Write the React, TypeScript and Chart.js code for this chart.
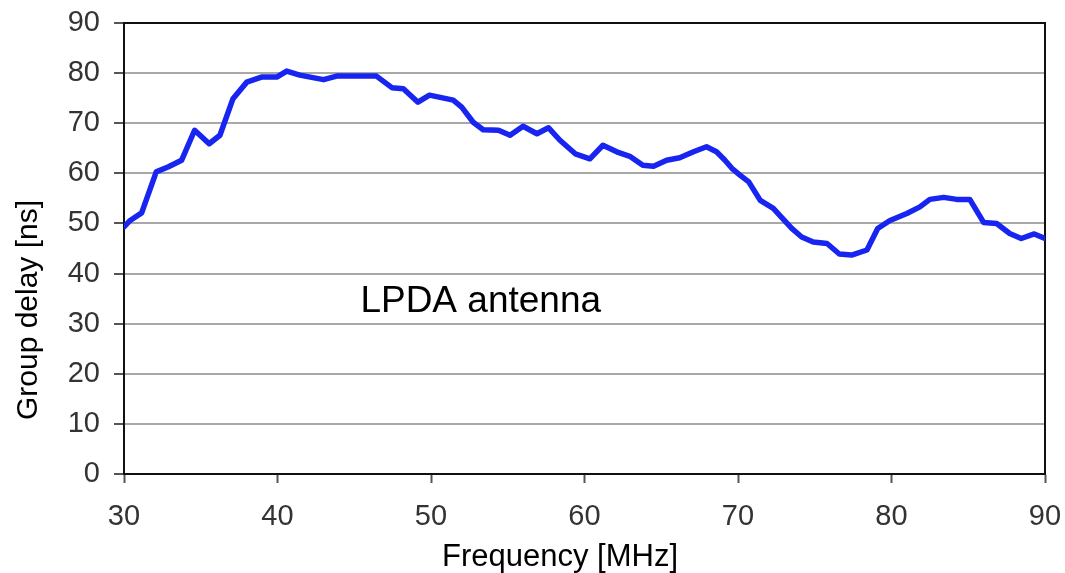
import React, { useEffect, useRef } from "react";
import { Chart, registerables } from "chart.js";

Chart.register(...registerables);

// Measured group delay of the LPDA antenna
const frequencyMHz = [
  30, 30.4, 31.15, 32.1, 32.9, 33.75, 34.6, 35.55, 36.25, 37.1, 38.0, 38.95,
  39.95, 40.6, 41.45, 43.0, 43.85, 45.4, 46.45, 47.45, 48.2, 49.15, 49.9,
  51.45, 52.0, 52.75, 53.4, 54.4, 55.15, 56.0, 56.9, 57.65, 58.4, 59.4, 60.35,
  61.2, 62.1, 62.95, 63.8, 64.5, 65.35, 66.2, 67.1, 67.95, 68.6, 69.15, 69.6,
  70.15, 70.7, 71.45, 72.3, 73.5, 74.15, 74.9, 75.8, 76.6, 77.4, 78.4, 79.1,
  79.9, 81.0, 81.85, 82.5, 83.4, 84.25, 85.1, 86.0, 86.85, 87.7, 88.45, 89.3,
  90,
];
const groupDelayNs = [
  49.3, 50.6, 52.1, 60.3, 61.3, 62.6, 68.6, 65.9, 67.6, 74.9, 78.2, 79.2,
  79.2, 80.4, 79.6, 78.7, 79.4, 79.4, 79.4, 77.1, 76.9, 74.2, 75.6,
  74.6, 73.2, 70.2, 68.7, 68.6, 67.6, 69.4, 67.9, 69.1, 66.6, 63.9, 62.9,
  65.6, 64.3, 63.4, 61.6, 61.4, 62.6, 63.1, 64.3, 65.3, 64.3, 62.6, 61.0,
  59.6, 58.3, 54.6, 53.0, 49.0, 47.3, 46.3, 46.0, 43.9, 43.7, 44.7, 49.0,
  50.6, 52.0, 53.3, 54.8, 55.2, 54.8, 54.8, 50.2, 50.0, 48.0, 47.0, 47.9,
  47.0,
];

const xTitle = "Frequency [MHz]";
const yTitle = "Group delay [ns]";
const noteText = "LPDA antenna";
const notePos = { x: 45.4, y: 32.3 };

const FONT = "'Liberation Sans', Arial, Helvetica, sans-serif";

const textPlugin = {
  id: "frameAndText",
  beforeDatasetsDraw(chart: any) {
    const { ctx, chartArea: a } = chart;
    ctx.save();
    ctx.strokeStyle = "#111";
    ctx.lineWidth = 2;
    ctx.strokeRect(a.left, a.top, a.right - a.left, a.bottom - a.top);
    ctx.restore();
  },
  afterDraw(chart: any) {
    const { ctx } = chart;
    const xs = chart.scales.x;
    const ys = chart.scales.y;
    ctx.save();
    ctx.fillStyle = "#000";
    ctx.font = `31px ${FONT}`;
    ctx.textAlign = "center";
    ctx.textBaseline = "alphabetic";
    ctx.fillText(xTitle, 560, 566);

    ctx.save();
    ctx.font = `30px ${FONT}`;
    ctx.translate(37, 310);
    ctx.rotate(-Math.PI / 2);
    ctx.fillText(yTitle, 0, 0);
    ctx.restore();

    ctx.font = `37px ${FONT}`;
    ctx.textAlign = "left";
    ctx.fillText(
      noteText,
      xs.getPixelForValue(notePos.x),
      ys.getPixelForValue(notePos.y)
    );
    ctx.restore();
  },
};

export default function App() {
  const canvasRef = useRef<HTMLCanvasElement | null>(null);

  useEffect(() => {
    const canvas = canvasRef.current;
    if (!canvas) return;
    const chart = new Chart(canvas, {
      type: "line",
      data: {
        datasets: [
          {
            data: frequencyMHz.map((f, i) => ({ x: f, y: groupDelayNs[i] })),
            borderColor: "rgb(24, 36, 240)",
            borderWidth: 5.5,
            borderJoinStyle: "round",
            borderCapStyle: "round",
            pointRadius: 0,
            tension: 0,
            fill: false,
          },
        ],
      },
      options: {
        animation: false,
        responsive: false,
        events: [],
        layout: { padding: { top: 23, right: 20, left: 0, bottom: 0 } },
        plugins: {
          legend: { display: false },
          tooltip: { enabled: false },
        },
        scales: {
          x: {
            type: "linear",
            min: 30,
            max: 90,
            afterFit(scale: any) {
              scale.height = 99;
              scale.paddingLeft = 0;
              scale.paddingRight = 0;
            },
            ticks: {
              stepSize: 10,
              padding: 17,
              color: "#333",
              font: { family: FONT, size: 29 },
              maxRotation: 0,
            },
            grid: {
              drawOnChartArea: false,
              drawTicks: true,
              tickLength: 9,
              tickColor: "#555",
              tickWidth: 2,
            },
            border: { display: true, color: "#111", width: 2 },
          },
          y: {
            min: 0,
            max: 90,
            afterFit(scale: any) {
              scale.width = 124;
              scale.paddingTop = 0;
              scale.paddingBottom = 0;
            },
            ticks: {
              stepSize: 10,
              padding: 14,
              color: "#333",
              font: { family: FONT, size: 29 },
            },
            grid: {
              color: "#a8a8a8",
              lineWidth: 2,
              drawTicks: true,
              tickLength: 10,
              tickColor: "#555",
              tickWidth: 2,
            },
            border: { display: true, color: "#111", width: 2 },
          },
        },
      },
      plugins: [textPlugin],
    } as any);
    return () => chart.destroy();
  }, []);

  return (
    <div
      style={{
        position: "absolute",
        left: 0,
        top: 0,
        width: 1065,
        height: 573,
        background: "#fff",
      }}
    >
      <canvas
        ref={canvasRef}
        width={1065}
        height={573}
        style={{ width: 1065, height: 573, display: "block" }}
      />
    </div>
  );
}
